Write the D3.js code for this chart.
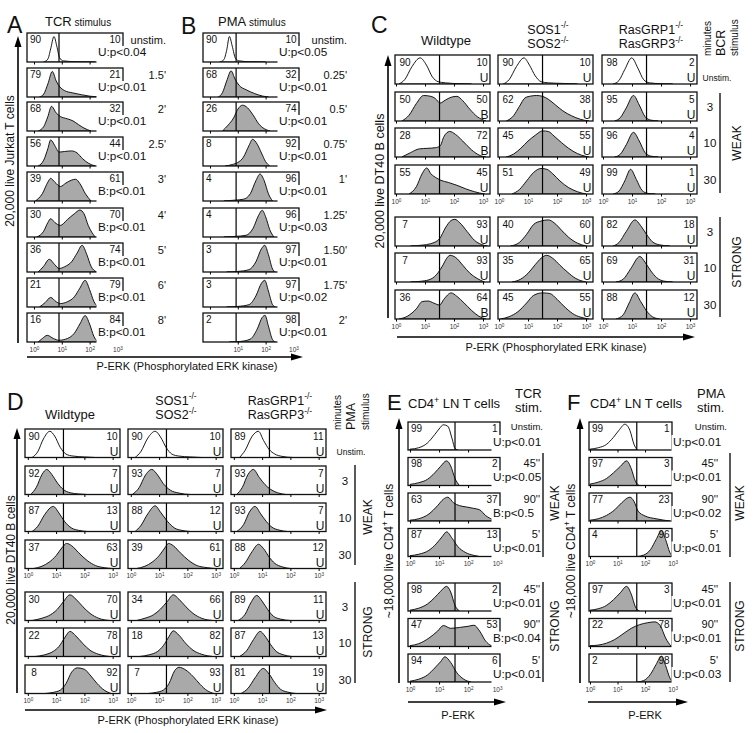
<!DOCTYPE html>
<html><head><meta charset="utf-8">
<script src="https://cdn.jsdelivr.net/npm/d3@7"></script>
<style>body{margin:0;background:#fff}svg{display:block}</style>
</head><body><svg id="c" width="753" height="733"></svg>
<script>
// ---------------- DATA ----------------
// Histogram points: [log10 P-ERK, % of max height]
const aTimes=["unstim.","1.5'","2'","2.5'","3'","4'","5'","6'","8'"];
const aLeft=[90,79,68,56,39,30,36,21,16];
const aRight=[10,21,32,44,61,70,74,79,84];
const aP=["U:p<0.04","U:p<0.01","U:p<0.01","U:p<0.01","B:p<0.01","B:p<0.01","B:p<0.01","B:p<0.01","B:p<0.01"];
const aHist=[
 [[0.35,0],[0.5,10],[0.6,45],[0.72,88],[0.82,55],[0.92,15],[1.05,4],[1.5,1],[2.2,0]],
 [[0.2,0],[0.35,10],[0.5,45],[0.66,88],[0.8,55],[0.93,35],[1.1,22],[1.4,14],[1.7,8],[2.0,3],[2.3,0]],
 [[0.15,0],[0.35,15],[0.5,50],[0.63,85],[0.8,62],[0.95,50],[1.2,42],[1.4,35],[1.6,22],[1.8,10],[2.05,0]],
 [[0.15,0],[0.35,20],[0.5,60],[0.6,90],[0.75,70],[0.9,48],[1.1,50],[1.35,52],[1.55,45],[1.75,25],[1.95,10],[2.2,0]],
 [[0.05,0],[0.3,25],[0.5,65],[0.6,78],[0.75,65],[0.95,50],[1.15,62],[1.35,72],[1.5,75],[1.65,60],[1.85,25],[2.05,0]],
 [[0.1,0],[0.35,20],[0.5,50],[0.6,63],[0.75,50],[0.95,40],[1.2,60],[1.45,80],[1.65,93],[1.8,80],[1.95,40],[2.2,0]],
 [[0.15,0],[0.35,20],[0.55,44],[0.75,25],[0.9,12],[1.1,18],[1.35,35],[1.55,65],[1.73,92],[1.9,60],[2.05,20],[2.25,0]],
 [[0.2,0],[0.4,15],[0.6,33],[0.8,18],[0.95,12],[1.2,18],[1.45,35],[1.65,65],[1.84,92],[2.0,60],[2.15,20],[2.3,0]],
 [[0.15,0],[0.3,12],[0.48,23],[0.7,12],[0.9,6],[1.2,12],[1.45,30],[1.65,62],[1.84,91],[2.0,62],[2.15,20],[2.3,0]]
];
const bTimes=["unstim.","0.25'","0.5'","0.75'","1'","1.25'","1.50'","1.75'","2'"];
const bLeft=[90,68,26,8,4,4,3,3,2];
const bRight=[10,32,74,92,96,96,97,97,98];
const bP=["U:p<0.05","U:p<0.01","U:p<0.01","U:p<0.01","U:p<0.01","U:p<0.03","U:p<0.01","U:p<0.02","U:p<0.01"];
const bHist=[
 [[0.35,0],[0.5,8],[0.6,40],[0.7,88],[0.8,55],[0.92,12],[1.05,4],[1.4,1],[2.0,0]],
 [[0.3,0],[0.45,15],[0.6,55],[0.76,90],[0.9,62],[1.05,40],[1.3,25],[1.6,12],[1.9,3],[2.1,0]],
 [[0.45,0],[0.65,20],[0.85,45],[1.0,75],[1.17,89],[1.35,80],[1.55,55],[1.75,25],[1.95,8],[2.15,0]],
 [[0.55,0],[0.8,5],[1.0,12],[1.2,30],[1.4,70],[1.53,92],[1.7,75],[1.85,45],[2.0,15],[2.15,0]],
 [[0.5,0],[0.9,3],[1.2,6],[1.45,25],[1.65,70],[1.8,93],[1.95,70],[2.1,25],[2.25,0]],
 [[0.5,0],[0.9,2],[1.3,6],[1.55,30],[1.75,75],[1.88,92],[2.0,70],[2.15,25],[2.3,0]],
 [[0.6,0],[1.0,2],[1.4,8],[1.65,35],[1.85,80],[1.97,92],[2.1,60],[2.25,10],[2.35,0]],
 [[0.6,0],[1.0,2],[1.4,8],[1.65,38],[1.85,82],[1.97,92],[2.1,55],[2.25,8],[2.35,0]],
 [[0.7,0],[1.1,2],[1.45,10],[1.7,45],[1.88,85],[1.98,92],[2.1,55],[2.25,8],[2.35,0]]
];
const stimRows=["Unstim.","3","10","30","3","10","30"];
const cWtLeft=[90,50,28,55,7,7,36];
const cWtRight=[10,50,72,45,93,93,64];
const cWtCall=["U","B","B","U","U","U","B"];
const cSosLeft=[90,62,45,51,40,35,45];
const cSosRight=[10,38,55,49,60,65,55];
const cSosCall=["U","U","U","U","U","U","U"];
const cRasLeft=[98,95,96,99,82,69,88];
const cRasRight=[2,5,4,1,18,31,12];
const cRasCall=["U","U","U","U","U","U","U"];
const cWtHist=[
 [[0.1,0],[0.3,15],[0.55,60],[0.83,90],[1.05,65],[1.25,25],[1.45,8],[1.7,4],[2.2,1],[2.6,0]],
 [[0.2,0],[0.45,20],[0.7,60],[0.95,88],[1.2,85],[1.35,78],[1.52,62],[1.7,72],[1.9,82],[2.1,85],[2.3,70],[2.55,40],[2.8,15],[3.1,0]],
 [[0.2,0],[0.5,15],[0.8,28],[1.1,30],[1.35,32],[1.52,38],[1.65,70],[1.85,88],[2.05,78],[2.3,55],[2.6,25],[2.9,5],[3.1,0]],
 [[0.45,0],[0.7,25],[0.9,70],[1.06,90],[1.2,70],[1.4,55],[1.55,47],[1.8,40],[2.1,30],[2.4,18],[2.7,8],[3.05,0]],
 [[0.5,0],[0.9,3],[1.2,8],[1.5,25],[1.7,62],[1.9,88],[2.03,92],[2.2,80],[2.45,50],[2.7,20],[2.95,5],[3.15,0]],
 [[0.5,0],[0.9,3],[1.2,10],[1.45,32],[1.6,55],[1.75,82],[1.86,92],[2.05,85],[2.3,58],[2.55,30],[2.8,12],[3.05,0]],
 [[0.1,0],[0.4,10],[0.7,35],[0.9,60],[1.1,62],[1.3,55],[1.5,48],[1.65,68],[1.9,90],[2.1,78],[2.35,55],[2.6,30],[2.85,10],[3.1,0]]
];
const cSosHist=[
 [[0.15,0],[0.35,15],[0.6,60],[0.86,90],[1.05,65],[1.25,28],[1.45,8],[1.7,4],[2.2,2],[2.7,0]],
 [[0.25,0],[0.5,18],[0.7,50],[0.9,80],[1.1,86],[1.3,88],[1.5,85],[1.7,75],[1.95,55],[2.2,35],[2.5,18],[2.8,6],[3.1,0]],
 [[0.25,0],[0.5,10],[0.75,30],[1.0,55],[1.25,75],[1.5,90],[1.7,88],[1.9,72],[2.15,50],[2.4,30],[2.7,12],[3.0,2],[3.1,0]],
 [[0.45,0],[0.7,15],[0.95,45],[1.2,75],[1.45,88],[1.65,85],[1.85,70],[2.1,45],[2.4,22],[2.7,8],[3.0,0]],
 [[0.4,0],[0.7,12],[0.95,40],[1.2,75],[1.45,86],[1.7,90],[1.9,80],[2.15,55],[2.4,30],[2.7,10],[3.0,0]],
 [[0.45,0],[0.75,10],[1.0,30],[1.25,60],[1.45,82],[1.64,92],[1.85,82],[2.1,58],[2.35,35],[2.65,12],[3.0,0]],
 [[0.05,0],[0.35,8],[0.65,25],[0.95,55],[1.2,82],[1.5,90],[1.75,88],[2.0,68],[2.3,38],[2.6,15],[2.9,4],[3.1,0]]
];
const cRasHist=[
 [[0.35,0],[0.55,12],[0.75,50],[0.99,90],[1.2,55],[1.4,15],[1.6,4],[2.0,1],[2.4,0]],
 [[0.4,0],[0.6,12],[0.8,45],[1.05,88],[1.25,55],[1.45,15],[1.65,3],[1.9,0]],
 [[0.4,0],[0.6,10],[0.8,42],[1.05,85],[1.25,55],[1.45,15],[1.65,3],[1.9,0]],
 [[0.35,0],[0.55,10],[0.75,45],[0.95,85],[1.15,50],[1.35,12],[1.55,2],[1.8,0]],
 [[0.35,0],[0.55,12],[0.8,50],[1.1,90],[1.3,70],[1.5,40],[1.7,15],[1.95,4],[2.3,0]],
 [[0.45,0],[0.7,10],[0.95,45],[1.27,88],[1.45,68],[1.65,38],[1.85,15],[2.1,3],[2.4,0]],
 [[0.45,0],[0.7,15],[0.9,55],[1.1,90],[1.3,60],[1.5,28],[1.7,8],[1.95,0]]
];
const dWtLeft=[90,92,87,37,30,22,8];
const dWtRight=[10,7,13,63,70,78,92];
const dSosLeft=[90,93,88,39,34,18,7];
const dSosRight=[10,7,12,61,66,82,93];
const dRasLeft=[89,93,93,88,89,87,81];
const dRasRight=[11,7,7,12,11,13,19];
const dCall=["U","U","U","U","U","U","U"];
const dWtHist=[
 [[0.15,0],[0.35,20],[0.55,65],[0.78,92],[0.95,75],[1.15,35],[1.35,12],[1.6,5],[2.0,2],[2.4,0]],
 [[0.1,0],[0.3,25],[0.5,70],[0.67,88],[0.85,70],[1.05,40],[1.25,18],[1.5,6],[1.8,2],[2.1,0]],
 [[0.15,0],[0.35,18],[0.6,60],[0.9,88],[1.1,65],[1.3,35],[1.55,12],[1.8,4],[2.1,0]],
 [[0.2,0],[0.5,8],[0.75,22],[1.0,45],[1.2,72],[1.37,88],[1.55,80],[1.8,55],[2.1,28],[2.4,10],[2.7,3],[3.0,0]],
 [[0.15,0],[0.5,8],[0.8,20],[1.05,40],[1.25,65],[1.49,90],[1.7,75],[1.95,48],[2.2,25],[2.5,8],[2.9,0]],
 [[0.25,0],[0.6,6],[0.9,18],[1.1,35],[1.3,65],[1.49,88],[1.7,72],[1.95,45],[2.2,22],[2.5,8],[2.9,0]],
 [[0.6,0],[0.9,4],[1.15,12],[1.35,35],[1.55,75],[1.75,90],[2.0,85],[2.2,65],[2.45,35],[2.7,12],[2.95,0]]
];
const dSosHist=[
 [[0.15,0],[0.35,20],[0.6,68],[0.86,92],[1.05,72],[1.25,35],[1.45,12],[1.7,5],[2.1,2],[2.5,0]],
 [[0.05,0],[0.3,25],[0.5,65],[0.74,88],[0.95,68],[1.15,38],[1.4,15],[1.7,5],[2.1,0]],
 [[0.15,0],[0.35,20],[0.6,62],[0.86,90],[1.05,68],[1.3,35],[1.55,12],[1.8,4],[2.1,0]],
 [[0.2,0],[0.5,8],[0.75,22],[1.0,45],[1.2,72],[1.33,88],[1.5,80],[1.75,55],[2.05,28],[2.35,10],[2.7,3],[3.0,0]],
 [[0.2,0],[0.5,8],[0.8,20],[1.05,40],[1.3,68],[1.5,90],[1.7,75],[1.95,48],[2.2,25],[2.5,8],[2.9,0]],
 [[0.3,0],[0.65,6],[0.95,18],[1.15,38],[1.35,70],[1.5,90],[1.7,75],[1.95,45],[2.2,22],[2.5,8],[2.9,0]],
 [[0.6,0],[0.9,4],[1.15,12],[1.35,35],[1.55,80],[1.7,92],[1.95,82],[2.2,60],[2.45,32],[2.7,10],[2.95,0]]
];
const dRasHist=[
 [[0.2,0],[0.4,25],[0.65,75],[0.87,92],[1.05,60],[1.25,28],[1.45,12],[1.7,4],[2.1,0]],
 [[0.1,0],[0.3,25],[0.5,70],[0.69,88],[0.9,60],[1.1,35],[1.3,18],[1.55,6],[1.85,0]],
 [[0.1,0],[0.35,25],[0.55,68],[0.75,88],[0.95,62],[1.15,35],[1.35,15],[1.6,5],[1.9,0]],
 [[0.2,0],[0.4,20],[0.65,60],[0.87,85],[1.05,70],[1.25,40],[1.45,18],[1.7,6],[2.0,0]],
 [[0.15,0],[0.4,22],[0.6,62],[0.81,88],[1.0,68],[1.2,38],[1.4,15],[1.65,5],[2.0,0]],
 [[0.2,0],[0.45,20],[0.7,60],[0.93,88],[1.1,72],[1.3,42],[1.5,18],[1.75,6],[2.05,0]],
 [[0.25,0],[0.5,18],[0.75,55],[1.04,88],[1.25,68],[1.45,38],[1.65,15],[1.9,5],[2.2,0]]
];
const eTimes=["Unstim.","45''","90''","5'","45''","90''","5'"];
const eLeft=[99,98,63,87,98,47,94];
const eRight=[1,2,37,13,2,53,6];
const eP=["U:p<0.01","U:p<0.05","B:p<0.5","U:p<0.01","U:p<0.01","B:p<0.04","U:p<0.01"];
const eHist=[
 [[0,3],[0.3,8],[0.6,25],[0.85,55],[1.0,75],[1.15,90],[1.3,85],[1.45,40],[1.55,5],[1.65,0]],
 [[0,4],[0.3,10],[0.6,22],[0.85,45],[1.05,68],[1.26,88],[1.4,70],[1.55,25],[1.7,0]],
 [[0,3],[0.3,8],[0.65,25],[0.95,55],[1.15,78],[1.3,85],[1.5,65],[1.7,55],[1.95,50],[2.2,45],[2.4,40],[2.6,20],[2.85,5],[3.0,0]],
 [[0,3],[0.3,8],[0.65,22],[0.9,45],[1.1,70],[1.26,88],[1.45,65],[1.65,35],[1.9,15],[2.2,4],[2.4,0]],
 [[0,3],[0.3,10],[0.6,25],[0.85,48],[1.05,70],[1.26,88],[1.4,68],[1.55,20],[1.7,0]],
 [[0,3],[0.3,10],[0.65,30],[0.95,55],[1.15,75],[1.4,65],[1.7,68],[2.0,72],[2.2,76],[2.4,55],[2.6,20],[2.8,3],[2.9,0]],
 [[0,3],[0.3,10],[0.6,25],[0.85,50],[1.05,72],[1.2,90],[1.4,70],[1.6,35],[1.85,10],[2.1,0]]
];
const fTimes=["Unstim.","45''","90''","5'","45''","90''","5'"];
const fLeft=[99,97,77,4,97,22,2];
const fRight=[1,3,23,96,3,78,98];
const fP=["U:p<0.01","U:p<0.01","U:p<0.02","U:p<0.01","U:p<0.01","U:p<0.01","U:p<0.03"];
const fHist=[
 [[0,3],[0.3,8],[0.6,20],[0.85,45],[1.05,70],[1.27,92],[1.45,70],[1.6,20],[1.72,0]],
 [[0,5],[0.3,12],[0.6,25],[0.85,45],[1.1,68],[1.33,88],[1.5,60],[1.65,15],[1.8,0]],
 [[0,3],[0.3,8],[0.6,20],[0.9,40],[1.15,65],[1.45,85],[1.6,70],[1.75,35],[2.0,18],[2.4,8],[2.9,0]],
 [[1.7,0],[1.95,5],[2.2,25],[2.4,60],[2.6,92],[2.75,60],[2.9,15],[3.0,0]],
 [[0,3],[0.3,8],[0.6,20],[0.85,40],[1.1,65],[1.33,88],[1.5,60],[1.65,15],[1.8,0]],
 [[0,3],[0.3,5],[0.6,12],[0.9,25],[1.2,45],[1.5,65],[1.8,78],[2.1,85],[2.35,88],[2.55,75],[2.75,30],[2.95,0]],
 [[1.7,0],[1.95,5],[2.2,28],[2.4,62],[2.6,92],[2.75,58],[2.9,15],[3.0,0]]
];

// ---------------- DRAWING ----------------
const FONT="'Liberation Sans', Arial, Helvetica, sans-serif";
const svg=d3.select("#c").attr("font-family",FONT);
const defs=svg.append("defs");
let clipN=0;
const GRAY="#a9a9a9";

function rich(parent,x,y,parts,size,anchor){
  const t=parent.append("text").attr("x",x).attr("y",y).attr("font-size",size)
    .attr("text-anchor",anchor||"start").attr("fill","#111");
  let up=false;
  parts.forEach(p=>{
    const sup=typeof p!=="string";
    const s=sup?p.sup:p;
    const ts=t.append("tspan").text(s);
    if(sup&&!up){ts.attr("dy",-0.42*size).attr("font-size",size*0.68);up=true;}
    else if(sup){ts.attr("font-size",size*0.68);}
    else if(!sup&&up){ts.attr("dy",0.42*size);up=false;}
  });
  return t;
}
function txt(x,y,s,size,anchor){return rich(svg,x,y,[s],size,anchor);}
function rot(x,y,parts,size,anchor){
  const g=svg.append("g").attr("transform",`translate(${x},${y}) rotate(-90)`);
  return rich(g,0,0,parts,size,anchor||"middle").attr("dy","0.35em");
}
function vArrow(x,yb,yt){
  svg.append("line").attr("x1",x).attr("x2",x).attr("y1",yb).attr("y2",yt+8).attr("stroke","#000").attr("stroke-width",1.6);
  svg.append("path").attr("d",`M${x},${yt}L${x-3.5},${yt+11}L${x+3.5},${yt+11}Z`).attr("fill","#000");
}
function hArrow(y,xl,xr){
  svg.append("line").attr("x1",xl).attr("x2",xr-8).attr("y1",y).attr("y2",y).attr("stroke","#000").attr("stroke-width",1.6);
  svg.append("path").attr("d",`M${xr},${y}L${xr-12},${y-3.5}L${xr-12},${y+3.5}Z`).attr("fill","#000");
}
function vLine(x,y1,y2){svg.append("line").attr("x1",x).attr("x2",x).attr("y1",y1).attr("y2",y2).attr("stroke","#000").attr("stroke-width",1.3);}

function drawPanel(P){
  P.cols.forEach(col=>{
    const xs=d3.scaleLinear().domain(P.domain).range([col.x,col.x+P.w]);
    P.tops.forEach((top,i)=>{
      const bot=top+P.h;
      const ys=d3.scaleLinear().domain([0,100]).range([bot,top]);
      const g=svg.append("g");
      const id="cl"+(clipN++);
      defs.append("clipPath").attr("id",id).append("rect").attr("x",col.x).attr("y",top).attr("width",P.w).attr("height",P.h);
      const area=d3.area().x(d=>xs(d[0])).y0(bot).y1(d=>ys(d[1])).curve(d3.curveMonotoneX);
      g.append("path").attr("d",area(col.hist[i])).attr("fill",i===0?"#fff":GRAY)
        .attr("stroke","#000").attr("stroke-width",0.9).attr("clip-path",`url(#${id})`);
      g.append("line").attr("x1",xs(P.gate)).attr("x2",xs(P.gate)).attr("y1",top).attr("y2",bot)
        .attr("stroke","#000").attr("stroke-width",1.2);
      g.append("rect").attr("x",col.x).attr("y",top).attr("width",P.w).attr("height",P.h)
        .attr("fill","none").attr("stroke","#111").attr("stroke-width",1.3);
      const showLab=P.labelRows.includes(i);
      const ax=d3.axisBottom(xs).tickValues(showLab?P.tickVals:[0,1,2,3]).tickSize(2.5).tickPadding(2.5)
        .tickFormat(showLab?(()=> "10"):(()=>""));
      const ag=g.append("g").attr("transform",`translate(0,${bot})`).call(ax);
      ag.select(".domain").remove();
      ag.selectAll("line").attr("stroke","#000");
      if(showLab){
        ag.selectAll("text").attr("font-family",FONT).attr("font-size",6.5).attr("fill","#333")
          .each(function(d){d3.select(this).append("tspan").attr("dy","-0.45em").attr("font-size",4.6).text(d);});
      } else {
        ag.selectAll("text").remove();
      }
      if(P.leftMode==="center") rich(g,col.x+P.leftOff,top+P.numY,[String(col.left[i])],10,"middle");
      else rich(g,col.x+3,top+P.numY,[String(col.left[i])],10,"start");
      if(col.p){
        const tx=col.x+P.w+P.pOff;
        g.append("rect").attr("x",tx-1.5).attr("y",top+13).attr("width",Math.max(0,col.x+P.w+2-(tx-1.5))).attr("height",P.h-9).attr("fill","#fff");
        rich(g,tx,top+P.pY,[col.p[i]],11.8,"start");
      }
      rich(g,col.x+P.w-2.5,top+P.numY,[String(col.right[i])],10,"end");
      if(col.call) rich(g,col.x+P.w-1.5,bot-2,[col.call[i]],12,"end");
      if(col.times){
        const first=i===0;
        rich(g,first&&P.unstimX?P.unstimX:P.timeX,top+(first&&P.unstimY?P.unstimY:P.timeY),[col.times[i]],first&&P.unstimSize?P.unstimSize:11,"end");
      }
    });
  });
}

// Panel A
drawPanel({cols:[{x:27,left:aLeft,right:aRight,hist:aHist,p:aP,times:aTimes}],
  tops:[33,68,102,137,172,208,243,278,313],w:96,h:29,domain:[-0.25,3.2],gate:0.9,
  labelRows:[8],tickVals:[0,1,2,3],leftMode:"start",numY:10,pOff:-25,pY:23,timeX:166,timeY:11});
// Panel B
drawPanel({cols:[{x:203,left:bLeft,right:bRight,hist:bHist,p:bP,times:bTimes}],
  tops:[33,68,102,137,172,208,243,278,313],w:96,h:29,domain:[-0.25,3.2],gate:0.94,
  labelRows:[8],tickVals:[1,2,3],leftMode:"start",numY:10,pOff:-20,pY:23,timeX:347,timeY:11});
// Panel C
drawPanel({cols:[
   {x:395,left:cWtLeft,right:cWtRight,hist:cWtHist,call:cWtCall},
   {x:498,left:cSosLeft,right:cSosRight,hist:cSosHist,call:cSosCall},
   {x:602,left:cRasLeft,right:cRasRight,hist:cRasHist,call:cRasCall}],
  tops:[55,92,128,165,217,253,290],w:95,h:29,domain:[-0.035,3.24],gate:1.5,
  labelRows:[3,6],tickVals:[0,1,2,3],leftMode:"center",leftOff:10,numY:10.5});
// Panel D
drawPanel({cols:[
   {x:25,left:dWtLeft,right:dWtRight,hist:dWtHist,call:dCall},
   {x:128,left:dSosLeft,right:dSosRight,hist:dSosHist,call:dCall},
   {x:231,left:dRasLeft,right:dRasRight,hist:dRasHist,call:dCall}],
  tops:[429,466,503,540,592,628,665],w:95,h:28.5,domain:[-0.1,3.26],gate:1.26,
  labelRows:[3,6],tickVals:[0,1,2,3],leftMode:"center",leftOff:9,numY:10.5});
// Panel E
drawPanel({cols:[{x:408,left:eLeft,right:eRight,hist:eHist,p:eP,times:eTimes}],
  tops:[422,457.5,493,528.5,583,618.5,654],w:92,h:28,domain:[-0.07,3.1],gate:1.55,
  labelRows:[3,6],tickVals:[0,1,2,3],leftMode:"start",numY:9.5,pOff:-7,pY:23.5,timeX:540,timeY:9.5,
  unstimX:543,unstimY:8,unstimSize:9.5});
// Panel F
drawPanel({cols:[{x:589,left:fLeft,right:fRight,hist:fHist,p:fP,times:fTimes}],
  tops:[422,457.5,493,528.5,583,618.5,654],w:83,h:28,domain:[-0.036,2.98],gate:1.7,
  labelRows:[3,6],tickVals:[0,1,2,3],leftMode:"start",numY:9.5,pOff:1,pY:23.5,timeX:718,timeY:9.5,
  unstimX:727,unstimY:8,unstimSize:9.5});

// Panel letters & titles
txt(7,33,"A",23); txt(181,34,"B",23); txt(371,33,"C",23);
txt(7,410,"D",23); txt(387,410,"E",22); txt(567,410,"F",22);
rich(svg,45,26,["TCR"],13).append("tspan").attr("font-size",10).text(" stimulus");
rich(svg,218,26,["PMA"],13).append("tspan").attr("font-size",10).text(" stimulus");
txt(446,45,"Wildtype",13,"middle");
rich(svg,548,33.5,["SOS1",{sup:"-/-"}],12.5,"middle");
rich(svg,548,48,["SOS2",{sup:"-/-"}],12.5,"middle");
rich(svg,651,33.5,["RasGRP1",{sup:"-/-"}],12.5,"middle");
rich(svg,651,48,["RasGRP3",{sup:"-/-"}],12.5,"middle");
rot(707,56,["minutes"],10,"start"); rot(721,56,["BCR"],12.5,"start"); rot(734,56,["stimulus"],10,"start");
txt(70,419,"Wildtype",13,"middle");
rich(svg,176,404.5,["SOS1",{sup:"-/-"}],12.5,"middle");
rich(svg,176,419,["SOS2",{sup:"-/-"}],12.5,"middle");
rich(svg,280,404.5,["RasGRP1",{sup:"-/-"}],12.5,"middle");
rich(svg,280,419,["RasGRP3",{sup:"-/-"}],12.5,"middle");
rot(337,430,["minutes"],10,"start"); rot(351,430,["PMA"],12.5,"start"); rot(365,430,["stimulus"],10,"start");
rich(svg,408,408,["CD4",{sup:"+"}," LN T cells"],13);
txt(515,398,"TCR",13); txt(515,412,"stim.",13);
rich(svg,590,408,["CD4",{sup:"+"}," LN T cells"],13);
txt(697,398,"PMA",13); txt(697,412,"stim.",13);

// C & D stimulus row labels
[[55,92,128,165,217,253,290],[429,466,503,540,592,628,665]].forEach((tops,k)=>{
  const cx=k===0?710:345, ux=k===0?717:351;
  tops.forEach((t,i)=>{
    if(i===0) txt(ux,t+25.5,stimRows[i],8.5,"middle");
    else txt(cx,t+19,stimRows[i],11.5,"middle");
  });
});
vLine(720,93,193); vLine(720,217,317);
rot(737,143,["WEAK"],12); rot(737,262,["STRONG"],12);
vLine(355,465,565); vLine(355,582,683);
rot(368,517,["WEAK"],12); rot(368,632,["STRONG"],12);
vLine(543,453,557); vLine(543,582,682);
rot(555,503,["WEAK"],12); rot(555,626,["STRONG"],12);
vLine(730,453,557); vLine(730,582,682);
rot(740,503,["WEAK"],12); rot(740,626,["STRONG"],12);

// Axes arrows & titles
vArrow(18,343,36); rot(10,161,["20,000 live Jurkat T cells"],12);
hArrow(357,27,303); txt(187,370,"P-ERK (Phosphorylated ERK kinase)",11,"middle");
vArrow(388,318,55); rot(380,181,["20,000 live DT40 B cells"],12.5);
hArrow(337,397,695); txt(556,351,"P-ERK (Phosphorylated ERK kinase)",11,"middle");
vArrow(17,693,428); rot(11,560,["20,000 live DT40 B cells"],12);
hArrow(710,25,327); txt(188,724,"P-ERK (Phosphorylated ERK kinase)",11,"middle");
vArrow(399,683,418); rot(389,551,["~18,000 live CD4",{sup:"+"}," T cells"],12);
hArrow(702,408,506); txt(458,719,"P-ERK",11,"middle");
vArrow(580,683,418); rot(571,551,["~18,000 live CD4",{sup:"+"}," T cells"],12);
hArrow(702,588,688); txt(645,719,"P-ERK",11,"middle");
</script></body></html>
